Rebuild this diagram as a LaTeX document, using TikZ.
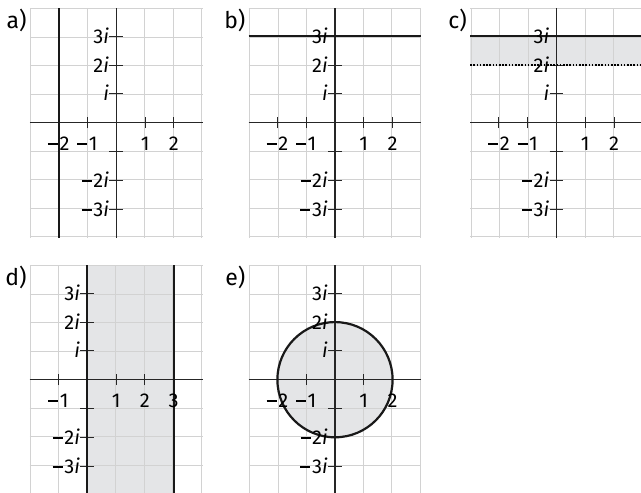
\documentclass[tikz,border=0pt]{standalone}
\usepackage{fontspec}
\setmainfont{Fira Sans}
\definecolor{shadecol}{HTML}{E4E5E7}
\definecolor{gridcol}{HTML}{D2D2D2}
\newcommand\mn{\raisebox{0.27em}{\rule{0.5em}{0.08em}}\hspace{0.08em}}
\tikzset{
  gridline/.style={draw=gridcol, line width=0.9pt},
  axisline/.style={draw=black!85, line width=1.1pt},
  boundline/.style={draw=black!90, line width=2.2pt},
  dotline/.style={draw=black, line width=1.6pt, dash pattern=on 1.6pt off 1.6pt},
  regionfill/.style={fill=shadecol, draw=none},
  numlabel/.style={inner sep=0pt, font=\fontsize{20}{23}\selectfont},
  panellabel/.style={inner sep=0pt, anchor=north east, font=\fontsize{23}{26}\selectfont},
  panel/.style={x=28.8pt, y=28.8pt}
}
\newcommand\panelgrid[2]{%
  \draw[gridline] (#1,-4) grid (#2,4);
  \draw[axisline] (#1,0) -- (#2,0);
  \draw[axisline] (0,-4) -- (0,4);
  \foreach \k in {-3,-2,-1,1,2,3} \draw[axisline] (-0.24,\k) -- (0.24,\k);
}
\newcommand\xticks[1]{%
  \foreach \k in {#1} \draw[axisline] (\k,-0.19) -- (\k,0.19);
}
\newcommand\ylabels{%
  \node[numlabel, anchor=base east] (y3) at (-0.25,2.76) {3\textit{i}};
  \node[numlabel, anchor=base east] (y2) at (-0.25,1.76) {2\textit{i}};
  \node[numlabel, anchor=base east] (y1) at (-0.25,0.76) {\textit{i}};
  \node[numlabel, anchor=base east] (ym2) at (-0.25,-2.24) {\mn2\textit{i}};
  \node[numlabel, anchor=base east] (ym3) at (-0.25,-3.24) {\mn3\textit{i}};
}
\newcommand\xlabels[1]{%
  \foreach \k/\t in {#1} \node[numlabel, anchor=base] (x\k) at (\k,-0.95) {\t};
}
\begin{document}
\begin{tikzpicture}[x=1pt,y=1pt]
\useasboundingbox (0,0) rectangle (641,-493);
\clip (0,0) rectangle (641,-493);
\fill[white] (0,0) rectangle (641,-493);

% a)
\begin{scope}[shift={(116.3,-122.7)}, panel]
  \panelgrid{-3}{3}
  \xticks{-2,-1,1,2}
  \draw[boundline] (-2,-4) -- (-2,4);
  \ylabels
  \xlabels{-2/{\mn2},-1/{\mn1},1/1,2/2}
  \node[panellabel, xshift=-3pt, yshift=-1pt] (la) at (-3,4) {a)};
\end{scope}

% b)
\begin{scope}[shift={(335,-122.7)}, panel]
  \panelgrid{-3}{3}
  \xticks{-2,-1,1,2}
  \draw[boundline] (-3,3) -- (3,3);
  \ylabels
  \xlabels{-2/{\mn2},-1/{\mn1},1/1,2/2}
  \node[panellabel, xshift=-3pt, yshift=-1pt] (lb) at (-3,4) {b)};
\end{scope}

% c)
\begin{scope}[shift={(556.5,-122.7)}, panel]
  \fill[regionfill] (-3,2) rectangle (3,3);
  \panelgrid{-3}{3}
  \xticks{-2,-1,1,2}
  \draw[boundline] (-3,3) -- (3,3);
  \draw[dotline] (-3,2) -- (3,2);
  \ylabels
  \xlabels{-2/{\mn2},-1/{\mn1},1/1,2/2}
  \node[panellabel, xshift=-3pt, yshift=-1pt] (lc) at (-3,4) {c)};
\end{scope}

% d)
\begin{scope}[shift={(87.3,-379.7)}, panel]
  \fill[regionfill] (0,-4) rectangle (3,4);
  \panelgrid{-2}{4}
  \xticks{-1,1,2,3}
  \draw[boundline] (0,-4) -- (0,4);
  \draw[boundline] (3,-4) -- (3,4);
  \ylabels
  \xlabels{-1/{\mn1},1/1,2/2,3/3}
  \node[panellabel, xshift=-3pt, yshift=-1pt] (ld) at (-2,4) {d)};
\end{scope}

% e)
\begin{scope}[shift={(335,-379.7)}, panel]
  \fill[regionfill] (0,0) circle (2);
  \panelgrid{-3}{3}
  \xticks{-2,-1,1,2}
  \draw[boundline] (0,0) circle (2);
  \ylabels
  \xlabels{-2/{\mn2},-1/{\mn1},1/1,2/2}
  \node[panellabel, xshift=-3pt, yshift=-1pt] (le) at (-3,4) {e)};
\end{scope}
\end{tikzpicture}
\end{document}
